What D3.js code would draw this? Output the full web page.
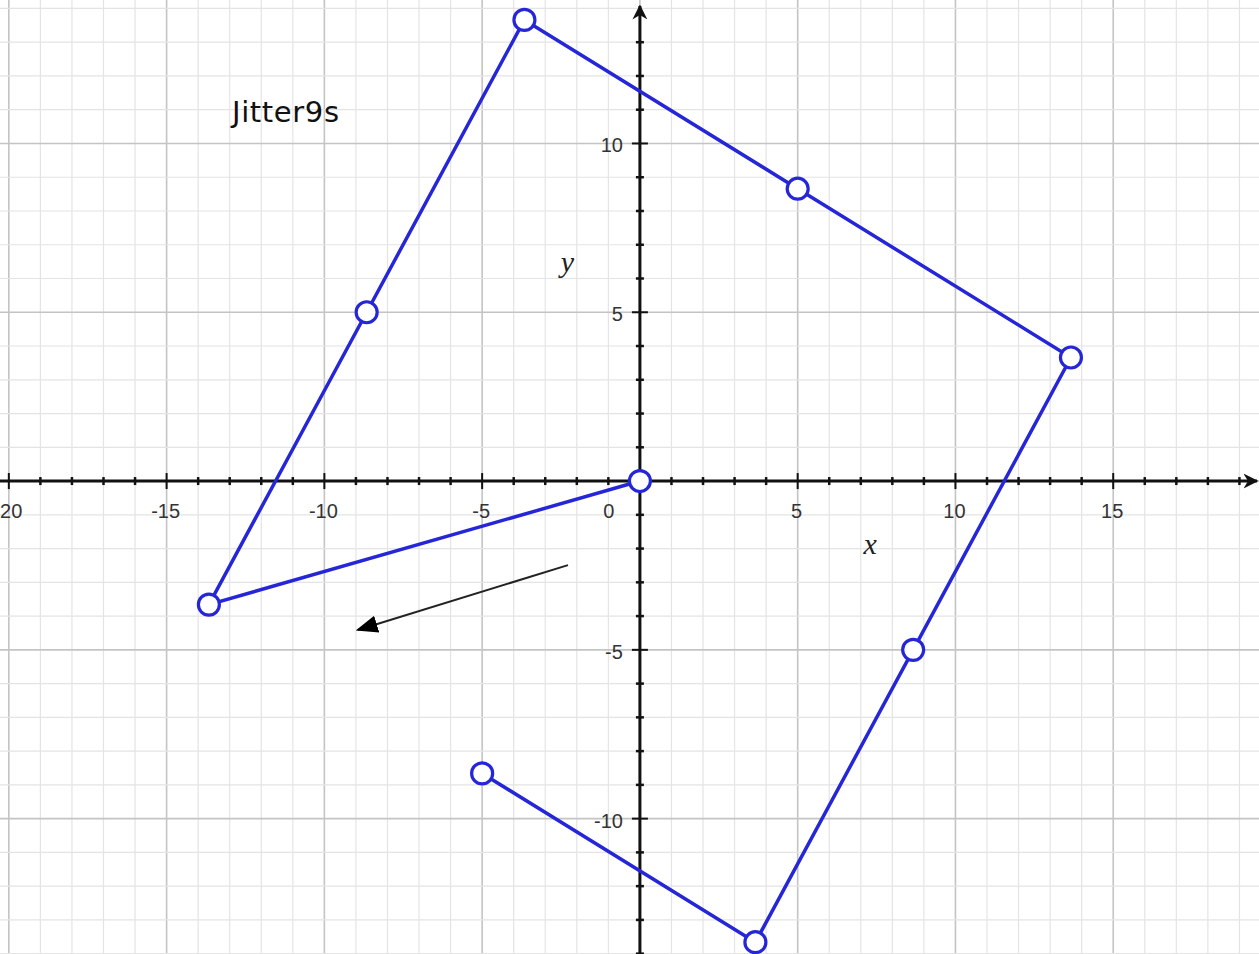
<!DOCTYPE html>
<html>
<head>
<meta charset="utf-8">
<script src="https://cdn.jsdelivr.net/npm/d3@7"></script>
<style>
  html, body { margin: 0; padding: 0; background: #fff; }
  svg { display: block; }
</style>
</head>
<body>
<div id="chart"></div>
<script>
// data
var xs = [0, -13.66, -8.66, -3.66, 5, 13.66, 8.66, 3.66, -5];
var ys = [0, -3.66, 5, 13.66, 8.66, 3.66, -5, -13.66, -8.66];
var xTicks = [-20, -15, -10, -5, 0, 5, 10, 15, 20];
var yTicks = [-10, -5, 5, 10];
var arrowFrom = [-2.28, -2.49];
var arrowTo = [-8.94, -4.41];
var title = "Jitter9s";

var W = 1259, H = 954;

var x = d3.scaleLinear().domain([-20.28, 19.62]).range([0, W]);
var y = d3.scaleLinear().domain([14.25, -14.01]).range([0, H]);

var svg = d3.select("#chart").append("svg").attr("width", W).attr("height", H);

var defs = svg.append("defs");
defs.append("marker").attr("id", "axArrow")
  .attr("viewBox", "0 0 10 10").attr("refX", 9).attr("refY", 5)
  .attr("markerWidth", 5).attr("markerHeight", 5).attr("orient", "auto")
  .attr("markerUnits", "strokeWidth")
  .append("path").attr("d", "M0,0 L10,5 L0,10 L3,5 Z").attr("fill", "#111");
defs.append("marker").attr("id", "noteArrow")
  .attr("viewBox", "0 0 10 10").attr("refX", 9).attr("refY", 5)
  .attr("markerWidth", 11).attr("markerHeight", 11).attr("orient", "auto")
  .attr("markerUnits", "strokeWidth")
  .append("path").attr("d", "M0,1 L10,5 L0,9 Z").attr("fill", "#000");

// grid
var minorX = d3.range(-20, 21), minorY = d3.range(-14, 15);
var grid = svg.append("g");
grid.selectAll(".gx").data(minorX).join("line")
  .attr("x1", d => x(d)).attr("x2", d => x(d)).attr("y1", 0).attr("y2", H)
  .attr("stroke", d => d % 5 == 0 ? "#c4c4c4" : "#e4e4e4").attr("stroke-width", d => d % 5 == 0 ? 1.6 : 1.2);
grid.selectAll(".gy").data(minorY).join("line")
  .attr("y1", d => y(d)).attr("y2", d => y(d)).attr("x1", 0).attr("x2", W)
  .attr("stroke", d => d % 5 == 0 ? "#c4c4c4" : "#e4e4e4").attr("stroke-width", d => d % 5 == 0 ? 1.6 : 1.2);

// axes
var ax = svg.append("g");
ax.append("line").attr("x1", 0).attr("x2", W - 2).attr("y1", y(0)).attr("y2", y(0))
  .attr("stroke", "#111").attr("stroke-width", 3).attr("marker-end", "url(#axArrow)");
ax.append("line").attr("x1", x(0)).attr("x2", x(0)).attr("y1", H).attr("y2", 6)
  .attr("stroke", "#111").attr("stroke-width", 3).attr("marker-end", "url(#axArrow)");

ax.selectAll(".tx").data(minorX.filter(d => d != 0 && x(d) < W - 12)).join("line")
  .attr("x1", d => x(d)).attr("x2", d => x(d))
  .attr("y1", d => y(0) - (d % 5 == 0 ? 8 : 4)).attr("y2", d => y(0) + (d % 5 == 0 ? 8 : 4))
  .attr("stroke", "#111").attr("stroke-width", d => d % 5 == 0 ? 2 : 2.5);
ax.selectAll(".ty").data(minorY.filter(d => d != 0 && y(d) > 16)).join("line")
  .attr("y1", d => y(d)).attr("y2", d => y(d))
  .attr("x1", d => x(0) - (d % 5 == 0 ? 8 : 4)).attr("x2", d => x(0) + (d % 5 == 0 ? 8 : 4))
  .attr("stroke", "#111").attr("stroke-width", d => d % 5 == 0 ? 2 : 2.5);

var lab = svg.append("g").attr("font-family", "Liberation Sans, Arial, sans-serif")
  .attr("font-size", 20).attr("fill", "#333");
lab.selectAll(".lx").data(xTicks).join("text")
  .attr("x", d => d == 0 ? x(0) - 31 : x(d) - 1).attr("y", y(0) + 37)
  .attr("text-anchor", "middle")
  .text(d => d);
lab.selectAll(".ly").data(yTicks).join("text")
  .attr("x", x(0) - 17).attr("y", d => y(d) + 9)
  .attr("text-anchor", "end")
  .text(d => d);

svg.append("text").attr("x", x(7.3)).attr("y", y(-2.15))
  .attr("font-family", "Liberation Serif, Times New Roman, serif").attr("font-style", "italic")
  .attr("font-size", 30).attr("fill", "#222").attr("text-anchor", "middle").text("x");
svg.append("text").attr("x", x(-2.3)).attr("y", y(6.2))
  .attr("font-family", "Liberation Serif, Times New Roman, serif").attr("font-style", "italic")
  .attr("font-size", 30).attr("fill", "#222").attr("text-anchor", "middle").text("y");

svg.append("text").attr("x", 232).attr("y", 122)
  .attr("font-family", "DejaVu Sans, sans-serif").attr("font-size", 29).attr("fill", "#111")
  .attr("textLength", 107).text(title);

// note arrow
svg.append("line")
  .attr("x1", x(arrowFrom[0])).attr("y1", y(arrowFrom[1]))
  .attr("x2", x(arrowTo[0])).attr("y2", y(arrowTo[1]))
  .attr("stroke", "#222").attr("stroke-width", 2).attr("marker-end", "url(#noteArrow)");

// path + points
var pts = xs.map((d, i) => [d, ys[i]]);
svg.append("path").datum(pts)
  .attr("d", d3.line().x(d => x(d[0])).y(d => y(d[1])))
  .attr("fill", "none").attr("stroke", "#2626d9").attr("stroke-width", 3.5).attr("stroke-linejoin", "round");
svg.selectAll(".pt").data(pts).join("circle")
  .attr("cx", d => x(d[0])).attr("cy", d => y(d[1])).attr("r", 10.5)
  .attr("fill", "#fff").attr("stroke", "#2626d9").attr("stroke-width", 3.2);
</script>
</body>
</html>
